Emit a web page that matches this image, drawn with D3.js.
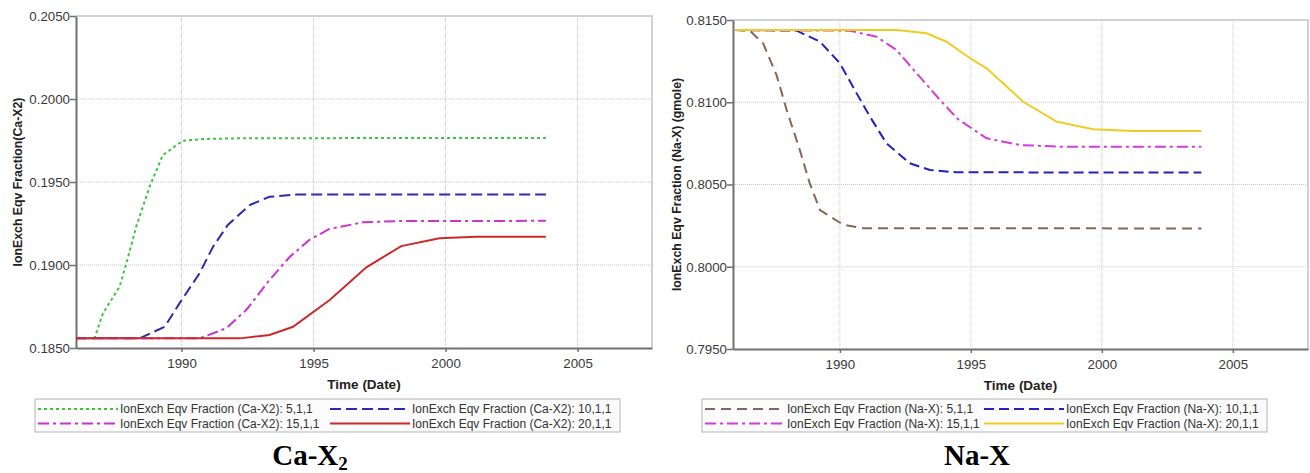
<!DOCTYPE html>
<html lang="en">
<head>
<meta charset="UTF-8">
<title>IonExch Eqv Fraction</title>
<style>
  body { margin: 0; background: #fff; }
  svg { display: block; font-family: Arial, "Liberation Sans", sans-serif; }
</style>
</head>
<body>
<script src="https://cdn.jsdelivr.net/npm/d3@7.3.0/dist/d3.min.js"></script>
<script>
// --- data: [year, value] ---
const ca_5 = [[1986.0,0.18558],[1986.7,0.18558],[1987.02,0.18709],[1987.65,0.18869],[1987.91,0.1901],
  [1988.28,0.19231],[1988.79,0.19472],[1989.29,0.19663],[1990.05,0.19749],[1990.81,0.19759],
  [1992.5,0.19764],[2003.8,0.19765]];
const ca_10 = [[1986.0,0.18558],[1988.41,0.18558],[1989.36,0.18628],[1989.92,0.18769],[1990.68,0.1895],
  [1991.19,0.1911],[1991.75,0.19241],[1992.58,0.19361],[1993.33,0.19411],[1994.34,0.19424],[2003.8,0.19425]];
const ca_15 = [[1986.0,0.18558],[1990.68,0.18558],[1991.69,0.18619],[1992.45,0.18729],[1993.33,0.1891],
  [1994.09,0.19048],[1994.84,0.19151],[1995.6,0.19217],[1996.87,0.19257],[1998.27,0.19265],[2003.8,0.19266]];
const ca_20 = [[1986.0,0.18558],[1992.2,0.18558],[1993.33,0.18578],[1994.22,0.18628],[1995.61,0.18789],
  [1997.0,0.18986],[1998.32,0.19114],[1999.77,0.19161],[2001.16,0.1917],[2003.8,0.1917]];

const na_5 = [[1986.0,0.81439],[1986.56,0.81435],[1987.07,0.81358],[1987.58,0.81166],[1987.97,0.80953],
  [1988.47,0.8071],[1988.85,0.80507],[1989.24,0.80345],[1990.13,0.80255],[1990.89,0.80234],[2003.8,0.80233]];
const na_10 = [[1986.0,0.81439],[1988.35,0.81435],[1989.24,0.81368],[1990.0,0.81237],[1990.64,0.81054],
  [1991.15,0.80912],[1991.78,0.8075],[1992.67,0.80629],[1993.44,0.80588],[1994.45,0.80574],[2003.8,0.80573]];
const na_15 = [[1986.0,0.81439],[1990.38,0.81435],[1991.4,0.81398],[1992.16,0.81318],[1992.93,0.81176],
  [1993.82,0.81014],[1994.5,0.80898],[1995.6,0.80781],[1996.87,0.8074],[1998.4,0.8073],[2003.8,0.8073]];
const na_20 = [[1986.0,0.81439],[1992.16,0.81439],[1993.31,0.81419],[1994.07,0.81368],[1994.96,0.81269],
  [1995.6,0.81206],[1997.0,0.81003],[1998.27,0.80882],[1999.67,0.80836],[2001.19,0.80825],[2003.8,0.80825]];

const xTicks = [1990, 1995, 2000, 2005];
const caTicks = [0.185, 0.190, 0.195, 0.200, 0.205];
const naTicks = [0.795, 0.800, 0.805, 0.810, 0.815];
const runLabels = ["5,1,1", "10,1,1", "15,1,1", "20,1,1"];

const W = 1310, H = 473;
const svg = d3.select("body").append("svg").attr("width", W).attr("height", H);

const charts = [
  { left: 76, right: 652, top: 16, bottom: 348, xDom: [1986.0, 2007.82], yDom: [0.185, 0.205],
    yTicks: caTicks, yTitle: "IonExch Eqv Fraction(Ca-X2)", yTitleX: 18,
    legendName: "IonExch Eqv Fraction (Ca-X2): ", legend: [35, 399, 585, 295],
    series: [ca_5, ca_10, ca_15, ca_20],
    styles: [
      { color: "#3cc43c", dash: "3,3" },
      { color: "#2b2bb0", dash: "11,5" },
      { color: "#cc33cc", dash: "11,4,3,4" },
      { color: "#cc2a2a", dash: null }
    ] },
  { left: 733, right: 1308, top: 20, bottom: 349, xDom: [1985.92, 2007.87], yDom: [0.795, 0.815],
    yTicks: naTicks, yTitle: "IonExch Eqv Fraction (Na-X) (gmole)", yTitleX: 677,
    legendName: "IonExch Eqv Fraction (Na-X): ", legend: [702, 399, 565, 282],
    series: [na_5, na_10, na_15, na_20],
    styles: [
      { color: "#8c6454", dash: "10,6" },
      { color: "#2222c0", dash: "10,5" },
      { color: "#d53cd5", dash: "11,4,3,4" },
      { color: "#f0cc22", dash: null }
    ] }
];

charts.forEach(c => {
  const x = d3.scaleLinear().domain(c.xDom).range([c.left, c.right]);
  const y = d3.scaleLinear().domain(c.yDom).range([c.bottom, c.top]);
  const g = svg.append("g");

  // grid
  g.append("g").selectAll("line.vg").data(xTicks).join("line")
    .attr("x1", d => x(d)).attr("x2", d => x(d))
    .attr("y1", c.top).attr("y2", c.bottom)
    .attr("stroke", "#c8c8c8").attr("stroke-dasharray", "1,1");
  g.append("g").selectAll("line.hg").data(c.yTicks.slice(1, -1)).join("line")
    .attr("x1", c.left).attr("x2", c.right)
    .attr("y1", d => y(d)).attr("y2", d => y(d))
    .attr("stroke", "#c8c8c8").attr("stroke-dasharray", "1,1");

  // frame top / right
  g.append("path")
    .attr("d", `M${c.left},${c.top}H${c.right}V${c.bottom}`)
    .attr("fill", "none").attr("stroke", "#c4c4c4").attr("stroke-width", 1.5);

  // axes
  const xAxis = g.append("g").attr("transform", `translate(0,${c.bottom})`)
    .call(d3.axisBottom(x).tickValues(xTicks).tickFormat(d3.format("d")).tickSize(4).tickSizeOuter(0));
  const yAxis = g.append("g").attr("transform", `translate(${c.left},0)`)
    .call(d3.axisLeft(y).tickValues(c.yTicks).tickFormat(d3.format(".4f")).tickSize(6).tickSizeOuter(0));
  [xAxis, yAxis].forEach(a => {
    a.select(".domain").attr("stroke", "#707070").attr("stroke-width", 2);
    a.selectAll(".tick line").attr("stroke", "#707070").attr("stroke-width", 1.5);
    a.selectAll(".tick text").attr("fill", "#3a3a3a").style("font-size", "13.3px")
      .style("font-family", "Arial, 'Liberation Sans', sans-serif");
  });
  xAxis.selectAll(".tick text").attr("dy", "1.0em");
  yAxis.selectAll(".tick text").attr("x", -6);

  // titles
  g.append("text")
    .attr("x", (c.left + c.right) / 2).attr("y", c.bottom + 41)
    .attr("text-anchor", "middle").attr("font-weight", "bold")
    .style("font-size", "13.5px").attr("fill", "#222").text("Time (Date)");
  g.append("text")
    .attr("transform", `translate(${c.yTitleX},${(c.top + c.bottom) / 2}) rotate(-90)`)
    .attr("text-anchor", "middle").attr("dy", "0.35em").attr("font-weight", "bold")
    .style("font-size", "12.3px").attr("fill", "#222").text(c.yTitle);

  // series
  const line = d3.line().x(d => x(d[0])).y(d => y(d[1]));
  c.series.forEach((s, i) => {
    g.append("path").datum(s)
      .attr("fill", "none")
      .attr("stroke", c.styles[i].color)
      .attr("stroke-width", 2)
      .attr("stroke-dasharray", c.styles[i].dash)
      .attr("d", line);
  });

  // legend
  const [lx, ly, lw, col2] = c.legend;
  const lg = g.append("g").attr("transform", `translate(${lx},${ly})`);
  lg.append("rect").attr("width", lw).attr("height", 33)
    .attr("fill", "#fbfbfb").attr("stroke", "#b4b4b4").attr("stroke-width", 1);
  const colX = [3, col2];
  runLabels.forEach((lab, i) => {
    const cx = colX[i % 2], cy = 10 + Math.floor(i / 2) * 14.5;
    lg.append("line").attr("x1", cx).attr("x2", cx + 80).attr("y1", cy).attr("y2", cy)
      .attr("stroke", c.styles[i].color).attr("stroke-width", 2)
      .attr("stroke-dasharray", c.styles[i].dash);
    lg.append("text").attr("x", cx + 82).attr("y", cy).attr("dy", "0.36em")
      .style("font-size", "12px").attr("fill", "#333").text(c.legendName + lab);
  });
});

// captions
const cap1 = svg.append("text").attr("x", 310).attr("y", 465).attr("text-anchor", "middle")
  .attr("font-family", "'Liberation Serif', 'Times New Roman', serif").attr("font-weight", "bold")
  .style("font-size", "29px").attr("fill", "#000");
cap1.append("tspan").text("Ca-X");
cap1.append("tspan").attr("dy", 5).style("font-size", "19px").text("2");
svg.append("text").attr("x", 977).attr("y", 465).attr("text-anchor", "middle")
  .attr("font-family", "'Liberation Serif', 'Times New Roman', serif").attr("font-weight", "bold")
  .style("font-size", "29px").attr("fill", "#000").text("Na-X");
</script>
</body>
</html>
